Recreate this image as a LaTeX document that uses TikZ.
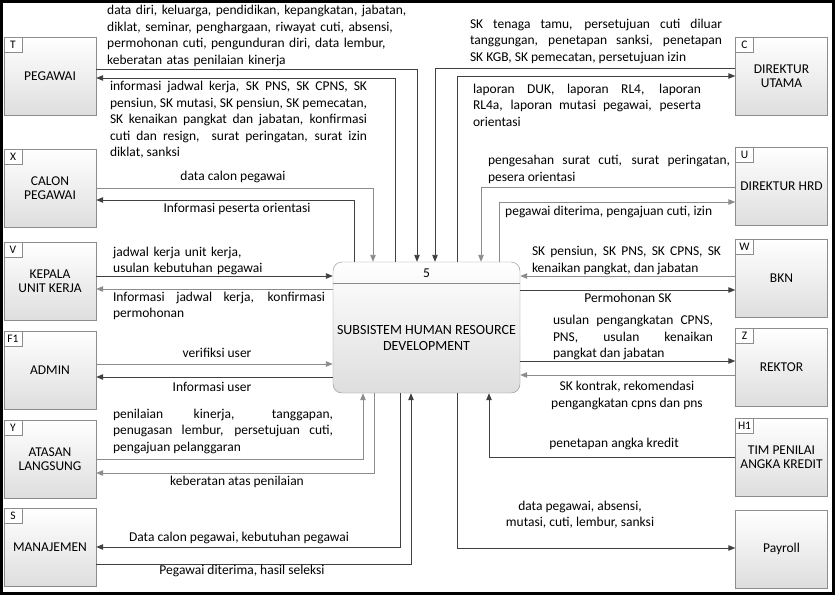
\documentclass[tikz,border=0pt]{standalone}
\usepackage{fontspec}
\setmainfont{Carlito}
\usepackage{tikz}
\usetikzlibrary{arrows.meta,positioning}

\begin{document}
\begin{tikzpicture}[
        x=1pt, y=-1pt,
        every node/.style={inner sep=0pt},
        entity/.style={draw=black!45, top color=white, bottom color=black!13, minimum width=92pt, minimum height=78pt, align=center, font=\fontsize{13.5}{14}\selectfont},
        tag/.style={draw=black!45, fill=white, minimum width=18pt, minimum height=15pt, anchor=north west, font=\fontsize{11.5}{12}\selectfont},
        lbl/.style={font=\fontsize{13.5}{16.5}\selectfont},
        flow/.style={-{Triangle[length=7pt,width=5.5pt]}, line width=0.9pt, draw=black!75},
        flowgray/.style={flow, draw=black!45}]

    \useasboundingbox (0,0) rectangle (835,595);
    \draw[line width=3pt] (1.5,1.5) rectangle (833.5,593.5);

    \node[draw=black!45, rounded corners=9pt, top color=white, bottom color=black!13, minimum width=187pt, minimum height=131pt] (subsistem) at (426.5,327.5) {};
    \draw[black!45, line width=0.8pt] (subsistem.west |- 0,283) -- (subsistem.east |- 0,283);
    \node[lbl] (subsistemno) at (426.5,273) {5};
    \node[align=center, font=\fontsize{14}{16}\selectfont] (subsistemname) at (426.5,338) {SUBSISTEM HUMAN RESOURCE\\DEVELOPMENT};

    \node[entity] (pegawai) at (50,76.5) {PEGAWAI};
    \node[tag] (pegawaitag) at (pegawai.north west) {T};
    \node[entity] (calon) at (50,188) {CALON\\PEGAWAI};
    \node[tag] (calontag) at (calon.north west) {X};
    \node[entity] (kepala) at (50,281.5) {KEPALA\\UNIT KERJA};
    \node[tag] (kepalatag) at (kepala.north west) {V};
    \node[entity] (admin) at (50,370) {ADMIN};
    \node[tag] (admintag) at (admin.north west) {F1};
    \node[entity] (atasan) at (50,459) {ATASAN\\LANGSUNG};
    \node[tag] (atasantag) at (atasan.north west) {Y};
    \node[entity] (manajemen) at (50,547.5) {MANAJEMEN};
    \node[tag] (manajementag) at (manajemen.north west) {S};

    \node[entity] (direktur) at (781.5,76.5) {DIREKTUR\\UTAMA};
    \node[tag] (direkturtag) at (direktur.north west) {C};
    \node[entity] (hrd) at (781.5,186.5) {DIREKTUR HRD};
    \node[tag] (hrdtag) at (hrd.north west) {U};
    \node[entity] (bkn) at (781.5,278.5) {BKN};
    \node[tag] (bkntag) at (bkn.north west) {W};
    \node[entity] (rektor) at (781.5,367) {REKTOR};
    \node[tag] (rektortag) at (rektor.north west) {Z};
    \node[entity] (timpak) at (781.5,457) {TIM PENILAI\\ANGKA KREDIT};
    \node[tag] (timpaktag) at (timpak.north west) {H1};
    \node[entity] (payroll) at (781.5,549) {Payroll};

    \draw[flow] (pegawai.east |- 0,69) -| (subsistem.north -| 417,0);
    \draw[flow] (subsistem.north -| 395,0) |- (pegawai.east |- 0,78);
    \draw[flowgray] (calon.east |- 0,188) -| (subsistem.north -| 373,0);
    \draw[flow] (subsistem.north -| 354,0) |- (calon.east |- 0,200);
    \draw[flow] (kepala.east |- 0,276) -- (subsistem.west |- 0,276);
    \draw[flowgray] (subsistem.west |- 0,289) -- (kepala.east |- 0,289);
    \draw[flowgray] (admin.east |- 0,364) -- (subsistem.west |- 0,364);
    \draw[flow] (subsistem.west |- 0,377) -- (admin.east |- 0,377);
    \draw[flowgray] (atasan.east |- 0,459) -| (subsistem.south -| 363,0);
    \draw[flowgray] (subsistem.south -| 374,0) |- (atasan.east |- 0,473);
    \draw[flow] (subsistem.south -| 400,0) |- (manajemen.east |- 0,547);
    \draw[flow] (manajemen.east |- 0,564) -| (subsistem.south -| 411,0);

    \draw[flow] (direktur.west |- 0,68) -| (subsistem.north -| 435,0);
    \draw[flow] (subsistem.north -| 457,0) |- (direktur.west |- 0,76);
    \draw[flowgray] (hrd.west |- 0,187) -| (subsistem.north -| 481,0);
    \draw[flowgray] (subsistem.north -| 499,0) |- (hrd.west |- 0,202);
    \draw[flowgray] (bkn.west |- 0,276) -- (subsistem.east |- 0,276);
    \draw[flow] (subsistem.east |- 0,290) -- (bkn.west |- 0,290);
    \draw[flow] (subsistem.east |- 0,361) -- (rektor.west |- 0,361);
    \draw[flowgray] (rektor.west |- 0,375) -- (subsistem.east |- 0,375);
    \draw[flow] (timpak.west |- 0,457) -| (subsistem.south -| 489,0);
    \draw[flow] (subsistem.south -| 457,0) |- (payroll.west |- 0,548);

    \node[lbl, text width=330pt, align=left, anchor=west] (pegawaiin) at (107,36) {data diri, keluarga, pendidikan, kepangkatan, jabatan,\\diklat, seminar, penghargaan, riwayat cuti, absensi,\\permohonan cuti, pengunduran diri, data lembur,\\keberatan atas penilaian kinerja};
    \node[lbl, text width=257pt, align=justify] (pegawaiout) at (238.5,120) {informasi jadwal kerja, SK PNS, SK CPNS, SK\linebreak pensiun, SK mutasi, SK pensiun, SK pemecatan,\linebreak SK kenaikan pangkat dan jabatan, konfirmasi\linebreak cuti dan resign,\ \ surat peringatan, surat izin\linebreak diklat, sanksi};
    \node[lbl] (calonin) at (233,177) {data calon pegawai};
    \node[lbl] (calonout) at (237,209) {Informasi peserta orientasi};
    \node[lbl, text width=200pt, align=left, anchor=west] (kepalain) at (113,261) {jadwal kerja unit kerja,\\usulan kebutuhan pegawai};
    \node[lbl, text width=212pt, align=justify] (kepalaout) at (219,306) {Informasi jadwal kerja, konfirmasi\linebreak permohonan};
    \node[lbl] (adminin) at (217,353) {verifiksi user};
    \node[lbl] (adminout) at (212,387) {Informasi user};
    \node[lbl, text width=220pt, align=justify] (atasanin) at (223,431) {penilaian kinerja, tanggapan,\linebreak penugasan lembur, persetujuan cuti,\linebreak pengajuan pelanggaran};
    \node[lbl] (atasanout) at (237,482) {keberatan atas penilaian};
    \node[lbl] (manajemenout) at (239,538) {Data calon pegawai, kebutuhan pegawai};
    \node[lbl] (manajemenin) at (242,571) {Pegawai diterima, hasil seleksi};

    \node[lbl, text width=252pt, align=justify] (direkturin) at (596,41) {SK tenaga tamu, persetujuan cuti diluar\linebreak tanggungan, penetapan sanksi, penetapan\linebreak SK KGB, SK pemecatan, persetujuan izin};
    \node[lbl, text width=228pt, align=justify] (direkturout) at (587,105) {laporan DUK, laporan RL4, laporan\linebreak RL4a, laporan mutasi pegawai, peserta\linebreak orientasi};
    \node[lbl, text width=242pt, align=justify] (hrdin) at (609,169.5) {pengesahan surat cuti, surat peringatan,\linebreak pesera orientasi};
    \node[lbl, anchor=west] (hrdout) at (505,212) {pegawai diterima, pengajuan cuti, izin};
    \node[lbl, text width=189pt, align=justify] (bknin) at (626.5,260.5) {SK pensiun, SK PNS, SK CPNS, SK\linebreak kenaikan pangkat, dan jabatan};
    \node[lbl] (bknout) at (628,298) {Permohonan SK};
    \node[lbl, text width=160pt, align=justify] (rektorout) at (633,337.5) {usulan pengangkatan CPNS,\linebreak PNS, usulan kenaikan\linebreak pangkat dan jabatan};
    \node[lbl, align=center] (rektorin) at (627,395.5) {SK kontrak, rekomendasi\\pengangkatan cpns dan pns};
    \node[lbl] (timpakin) at (614,444) {penetapan angka kredit};
    \node[lbl, align=center] (payrollout) at (580,514.5) {data pegawai, absensi,\\mutasi, cuti, lembur, sanksi};
\end{tikzpicture}
\end{document}
